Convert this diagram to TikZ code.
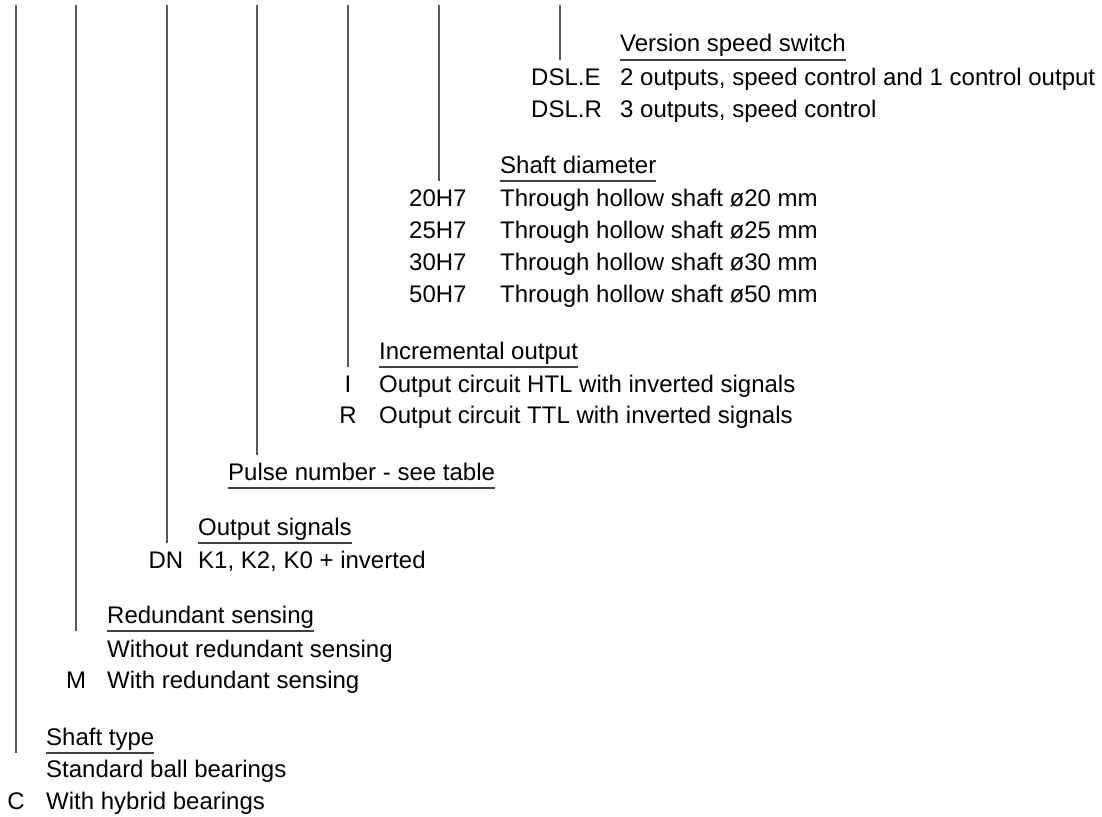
\documentclass[tikz,border=0pt]{standalone}
\usepackage{fontspec}
\setmainfont{Liberation Sans}
\begin{document}
\begin{tikzpicture}[x=1pt,y=-1pt,
  txt/.style={anchor=base west,inner sep=0pt,font=\fontsize{24pt}{28pt}\selectfont},
  code/.style={anchor=base,inner sep=0pt,font=\fontsize{24pt}{28pt}\selectfont},
  codel/.style={anchor=base west,inner sep=0pt,font=\fontsize{24pt}{28pt}\selectfont},
  lead/.style={draw=black!65,line width=1.1pt},
  uline/.style={draw=black!75,line width=1.1pt}]
\useasboundingbox (0,0) rectangle (1102,816);
% ---- Shaft type
\coordinate (top1) at (16,5);
\node[txt] (t1) at (46,745) {Shaft type};
\node[txt] (t1a) at (46,777) {Standard ball bearings};
\node[code] (c1b) at (16,809) {C};
\node[txt] (t1b) at (46,809) {With hybrid bearings};
% ---- Redundant sensing
\coordinate (top2) at (76,5);
\node[txt] (t2) at (107,623) {Redundant sensing};
\node[txt] (t2a) at (107,657) {Without redundant sensing};
\node[code] (c2b) at (76,688) {M};
\node[txt] (t2b) at (107,688) {With redundant sensing};
% ---- Output signals
\coordinate (top3) at (167,5);
\node[txt] (t3) at (198,535) {Output signals};
\node[code] (c3a) at (166,568) {DN};
\node[txt] (t3a) at (198,568) {K1, K2, K0 + inverted};
% ---- Pulse number
\coordinate (top4) at (257,5);
\coordinate (end4) at (257,455);
\node[txt] (t4) at (228,480) {Pulse number - see table};
% ---- Incremental output
\coordinate (top5) at (348,5);
\node[txt] (t5) at (379,359) {Incremental output};
\node[code] (c5a) at (348,392) {I};
\node[txt] (t5a) at (379,392) {Output circuit HTL with inverted signals};
\node[code] (c5b) at (348,423) {R};
\node[txt] (t5b) at (379,423) {Output circuit TTL with inverted signals};
% ---- Shaft diameter
\coordinate (top6) at (439,5);
\node[txt] (t6) at (500,173) {Shaft diameter};
\node[codel] (c6a) at (409,206) {20H7};
\node[txt] (t6a) at (500,206) {Through hollow shaft ø20 mm};
\node[codel] (c6b) at (409,238) {25H7};
\node[txt] (t6b) at (500,238) {Through hollow shaft ø25 mm};
\node[codel] (c6c) at (409,270) {30H7};
\node[txt] (t6c) at (500,270) {Through hollow shaft ø30 mm};
\node[codel] (c6d) at (409,302) {50H7};
\node[txt] (t6d) at (500,302) {Through hollow shaft ø50 mm};
% ---- Version speed switch
\coordinate (top7) at (560,5);
\node[txt] (t7) at (620,52) {Version speed switch};
\node[codel] (c7a) at (531,85) {DSL.E};
\node[txt] (t7a) at (620,85) {2 outputs, speed control and 1 control output};
\node[codel] (c7b) at (531,117) {DSL.R};
\node[txt] (t7b) at (620,117) {3 outputs, speed control};
% ---- underlines
\foreach \n in {t1,t2,t3,t4,t5,t6,t7}{
  \coordinate (u\n w) at ([yshift=-8pt]\n.base west);
  \coordinate (u\n e) at ([yshift=-8pt]\n.base east);
  \draw[uline] (u\n w) -- (u\n e);
}
% ---- leaders
\draw[lead] (top1) -- (top1 |- ut1w);
\draw[lead] (top2) -- (top2 |- ut2w);
\draw[lead] (top3) -- (top3 |- ut3w);
\draw[lead] (top4) -- (end4);
\draw[lead] (top5) -- (top5 |- ut5w);
\draw[lead] (top6) -- (top6 |- ut6w);
\draw[lead] (top7) -- (top7 |- ut7w);
\end{tikzpicture}
\end{document}
